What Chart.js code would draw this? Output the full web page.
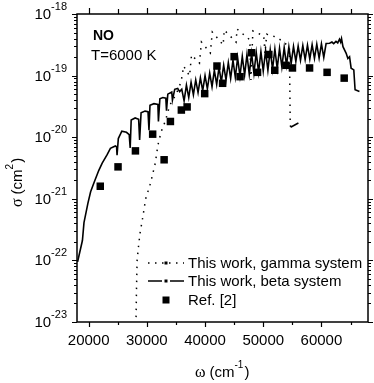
<!DOCTYPE html>
<html>
<head>
<meta charset="utf-8">
<script src="https://cdn.jsdelivr.net/npm/chart.js@4.4.0/dist/chart.umd.min.js"></script>
<style>
  body { margin: 0; background: #fff; }
  #wrap { width: 374px; height: 383px; }
</style>
</head>
<body>
<div id="wrap"><canvas id="myChart" width="374" height="383"></canvas></div>
<script>
// tick values
const xMajor = [20000, 30000, 40000, 50000, 60000];
const xMinor = [25000, 35000, 45000, 55000, 65000];
const yExps = [-23, -22, -21, -20, -19, -18];

// This work, gamma system (dotted)
const gammaW = [28150, 28220, 28330, 28600, 28840, 29300, 29800, 30640, 31450, 31900,
    32460, 33150, 33940, 35080, 35900, 36320, 37340, 37680, 39040, 39380,
    40910, 41250, 43120, 43290, 45330, 45500, 47700, 47880, 48220, 50090,
    50300, 50600, 52300, 53490, 54500, 54630, 54700, 56040];
const gammaS = [1.2e-23, 3.3e-23, 1.0e-22, 1.8e-22, 2.8e-22, 5.0e-22, 1.0e-21, 1.8e-21, 3.8e-21, 7.4e-21,
    1.23e-20, 1.8e-20, 3.3e-20, 5.1e-20, 8.0e-20, 1.43e-19, 9.9e-20, 2.16e-19, 1.6e-19, 3.5e-19,
    2.33e-19, 5.1e-19, 3.14e-19, 5.5e-19, 3.5e-19, 5.7e-19, 3.8e-19, 8.5e-20, 5.3e-19, 4.4e-19,
    2.3e-19, 4.7e-19, 4.2e-19, 3.5e-19, 2.9e-19, 1.77e-20, 1.45e-20, 1.7e-20];

// This work, beta system
const betaW = [18100, 18930, 19200, 19880, 20340, 20900, 21750, 22330, 23180, 23740,
    24590, 24800, 24880, 25100, 25700, 26500, 26970, 27140, 27310, 27990,
    28590, 28760, 29010, 29690, 30200, 30370, 30540, 31220, 31900, 31990,
    32240, 32750, 33260, 33380, 33600, 34280, 34400, 34790, 35300, 35640,
    36000, 36400, 36800, 37200, 37600, 38000, 38400, 38800, 39200, 39600,
    40000, 40400, 40800, 41200, 41600, 42000, 42400, 42800, 43200, 43600,
    44000, 44400, 44800, 45200, 45600, 46000, 46400, 46800, 47200, 47600,
    48000, 48400, 48800, 49200, 49600, 50000, 50400, 50800, 51200, 51600,
    52000, 52400, 52800, 53200, 53600, 54000, 54400, 54800, 55200, 55600,
    56000, 56400, 56800, 57200, 57600, 58000, 58400, 58800, 59200, 59600,
    60000, 60400,
    60800, 61400, 61800, 62100, 62500, 62800, 63100, 63300, 63450, 63700,
    64250, 64540, 64830, 65100, 65560, 65780, 66530];
const betaS = [9.5e-23, 2.1e-22, 4.1e-22, 8.5e-22, 1.3e-21, 1.8e-21, 2.9e-21, 3.8e-21, 5.2e-21, 6.6e-21,
    7.2e-21, 7.0e-21, 5.1e-21, 9.5e-21, 1.25e-20, 1.2e-20, 1.1e-20, 6.7e-21, 1.9e-20, 2.05e-20,
    1.95e-20, 9.0e-21, 2.5e-20, 2.65e-20, 2.6e-20, 1.3e-20, 3.3e-20, 3.5e-20, 3.4e-20, 1.8e-20,
    4.2e-20, 4.4e-20, 4.3e-20, 2.7e-20, 5.0e-20, 5.4e-20, 4.0e-20, 6.0e-20, 6.2e-20, 5.5e-20,
    6.0e-20, 3.9e-20, 7.0e-20, 4.4e-20, 7.8e-20, 4.9e-20, 8.5e-20, 5.3e-20, 9.2e-20, 5.7e-20,
    1.0e-19, 6.1e-20, 1.1e-19, 6.6e-20, 1.22e-19, 7.2e-20, 1.36e-19, 7.9e-20, 1.48e-19, 8.5e-20,
    1.62e-19, 9.0e-20, 1.78e-19, 9.4e-20, 1.95e-19, 9.8e-20, 2.05e-19, 1.02e-19, 2.18e-19, 1.05e-19,
    2.28e-19, 1.09e-19, 2.37e-19, 1.13e-19, 2.45e-19, 1.18e-19, 2.54e-19, 1.22e-19, 2.62e-19, 1.27e-19,
    2.70e-19, 1.31e-19, 2.77e-19, 1.38e-19, 2.85e-19, 1.48e-19, 2.91e-19, 1.58e-19, 2.97e-19, 1.70e-19,
    3.02e-19, 1.78e-19, 3.08e-19, 1.82e-19, 3.13e-19, 1.86e-19, 3.19e-19, 1.90e-19, 3.24e-19, 1.93e-19,
    3.28e-19, 1.97e-19,
    3.32e-19, 3.35e-19, 3.5e-19, 3.3e-19, 3.6e-19, 3.4e-19, 3.9e-19, 3.5e-19, 4.0e-19, 2.95e-19,
    2.3e-19, 1.9e-19, 2.03e-19, 1.32e-19, 1.24e-19, 5.9e-20, 5.5e-20];

// Ref. [2]
const refW = [22000, 25050, 28040, 31000, 32970, 34050, 35930, 36920, 39940, 42050, 43020,
    45000, 46020, 48000, 49020, 50960, 51980, 53900, 55020, 57960, 60970, 63910];
const refS = [1.6e-21, 3.3e-21, 6.0e-21, 1.12e-20, 4.3e-21, 1.8e-20, 2.76e-20, 3.1e-20, 5.1e-20, 1.43e-19, 7.5e-20,
    2.03e-19, 9.6e-20, 2.35e-19, 1.13e-19, 2.2e-19, 1.22e-19, 1.47e-19, 1.33e-19, 1.33e-19, 1.13e-19, 9.1e-20];

const labels = ["This work, gamma system", "This work, beta system", "Ref. [2]"];

const pairs = (xs, ys) => xs.map((w, i) => ({ x: w, y: ys[i] }));
const SANS = '"Liberation Sans", Arial, sans-serif';
const SERIF = '"Liberation Serif", "Times New Roman", serif';

// frame, ticks, labels and legend drawn on top of the library's scales
const decorations = {
    id: "decorations",
    afterDraw(chart) {
        const { ctx, chartArea: a, scales: { x, y } } = chart;
        ctx.save();
        ctx.strokeStyle = "#000";
        ctx.fillStyle = "#000";
        ctx.lineWidth = 1.5;
        ctx.strokeRect(a.left, a.top, a.right - a.left, a.bottom - a.top);

        ctx.lineWidth = 1.2;
        ctx.beginPath();
        xMajor.concat(xMinor).forEach(v => {
            const px = Math.round(x.getPixelForValue(v)) + 0.5;
            const big = xMajor.includes(v);
            ctx.moveTo(px, a.bottom); ctx.lineTo(px, a.bottom + (big ? 5 : 3));
            ctx.moveTo(px, a.top); ctx.lineTo(px, a.top - (big ? 6 : 5));
        });
        yExps.forEach(e => {
            for (let m = 1; m <= 9; m++) {
                if (e === -18 && m > 1) break;
                const py = Math.round(y.getPixelForValue(m * Math.pow(10, e))) + 0.5;
                const len = m === 1 ? 5 : 3;
                ctx.moveTo(a.left, py); ctx.lineTo(a.left - len, py);
                ctx.moveTo(a.right, py); ctx.lineTo(a.right + len, py);
            }
        });
        ctx.stroke();

        // x tick labels
        ctx.font = "15px " + SANS;
        ctx.textAlign = "center";
        ctx.textBaseline = "alphabetic";
        xMajor.forEach(v => ctx.fillText(String(v), x.getPixelForValue(v), a.bottom + 23));

        // y tick labels 10^n
        yExps.forEach(e => {
            const py = y.getPixelForValue(Math.pow(10, e));
            const ex = String(e);
            ctx.font = "11px " + SANS;
            const ew = ctx.measureText(ex).width;
            const xr = a.left - 10;
            ctx.textAlign = "left";
            ctx.fillText(ex, xr - ew, py - 4);
            ctx.font = "15px " + SANS;
            ctx.textAlign = "right";
            ctx.fillText("10", xr - ew, py + 5);
        });

        // x title: ω (cm-1)
        ctx.textAlign = "left";
        let tx = 195, ty = 377;
        ctx.font = "16px " + SERIF;
        ctx.fillText("\u03c9", tx, ty); tx += ctx.measureText("\u03c9 ").width;
        ctx.font = "15px " + SANS;
        ctx.fillText("(cm", tx, ty); tx += ctx.measureText("(cm").width;
        ctx.font = "10px " + SANS;
        ctx.fillText("-1", tx, ty - 9); tx += ctx.measureText("-1").width + 1;
        ctx.font = "15px " + SANS;
        ctx.fillText(")", tx, ty);

        // y title: σ (cm2), rotated
        ctx.save();
        ctx.translate(22, 207);
        ctx.rotate(-Math.PI / 2);
        let rx = 0;
        ctx.font = "16px " + SERIF;
        ctx.fillText("\u03c3", rx, 0); rx += ctx.measureText("\u03c3 ").width;
        ctx.font = "15px " + SANS;
        ctx.fillText("(cm", rx, 0); rx += ctx.measureText("(cm").width;
        ctx.font = "10px " + SANS;
        ctx.fillText("2", rx, -9); rx += ctx.measureText("2").width + 1;
        ctx.font = "15px " + SANS;
        ctx.fillText(")", rx, 0);
        ctx.restore();

        // annotations
        ctx.font = "bold 14px " + SANS;
        ctx.fillText("NO", 93, 40);
        ctx.font = "15px " + SANS;
        ctx.fillText("T=6000 K", 91, 60);

        // legend
        const rows = [263, 281, 300];
        const lx0 = 148, lx1 = 184, lmid = 166;
        ctx.lineWidth = 1.5;
        // gamma: dotted with small marker
        ctx.setLineDash([1.5, 5.5]);
        ctx.beginPath(); ctx.moveTo(lx0, rows[0]); ctx.lineTo(lx1, rows[0]); ctx.stroke();
        ctx.setLineDash([]);
        ctx.fillRect(lmid - 1.5, rows[0] - 1.5, 3, 3);
        // beta: dash-dot
        ctx.beginPath();
        ctx.moveTo(lx0, rows[1]); ctx.lineTo(lmid - 4, rows[1]);
        ctx.moveTo(lmid + 4, rows[1]); ctx.lineTo(lx1, rows[1]);
        ctx.stroke();
        ctx.fillRect(lmid - 1.5, rows[1] - 1.5, 3, 3);
        // ref squares
        ctx.fillRect(lmid - 3.5, rows[2] - 3.5, 7, 7);
        ctx.font = "15px " + SANS;
        ctx.textAlign = "left";
        ctx.textBaseline = "middle";
        labels.forEach((t, i) => ctx.fillText(t, 188, rows[i] + 1));
        ctx.restore();
    }
};

const lastGamma = gammaW.length - 2;

const data = {
    datasets: [
        {
            label: labels[0],
            data: pairs(gammaW, gammaS),
            showLine: true,
            borderColor: "#000",
            borderWidth: 1.5,
            borderDash: [1.5, 5.5],
            pointRadius: 0,
            segment: {
                borderDash: c => c.p0DataIndex === lastGamma ? [] : undefined
            }
        },
        {
            label: labels[1],
            data: pairs(betaW, betaS),
            showLine: true,
            borderColor: "#000",
            borderWidth: 1.6,
            pointRadius: 0
        },
        {
            label: labels[2],
            data: pairs(refW, refS),
            showLine: false,
            pointStyle: "rect",
            pointRadius: 5.3,
            backgroundColor: "#000",
            borderWidth: 0
        }
    ]
};

const config = {
    type: "scatter",
    data: data,
    options: {
        responsive: false,
        animation: false,
        devicePixelRatio: 1,
        layout: {
            padding: { left: 77, right: 6, top: 14, bottom: 61 }
        },
        scales: {
            x: { type: "linear", min: 18000, max: 68000, display: false },
            y: { type: "logarithmic", min: 1e-23, max: 1e-18, display: false }
        },
        plugins: {
            legend: { display: false },
            tooltip: { enabled: false }
        }
    },
    plugins: [decorations]
};

const myChart = new Chart(document.getElementById("myChart").getContext("2d"), config);
</script>
</body>
</html>
